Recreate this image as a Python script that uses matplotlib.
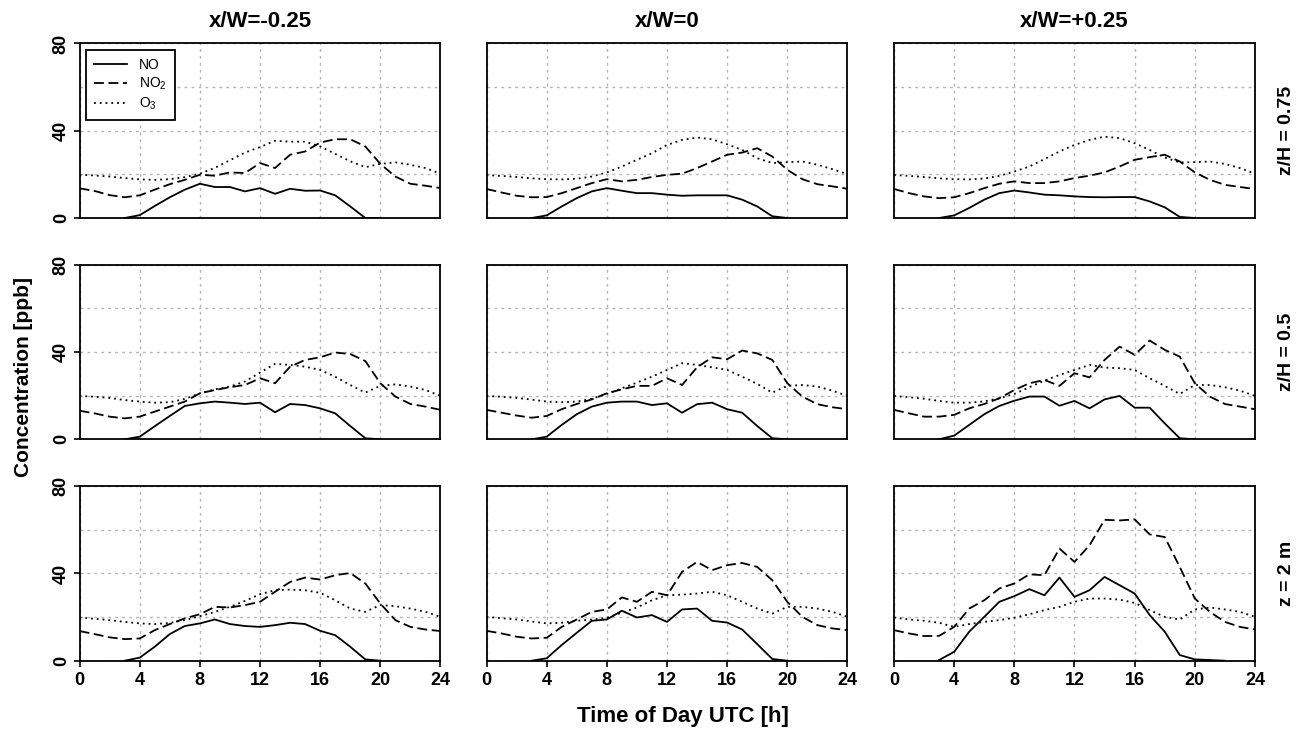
import numpy as np
import matplotlib.pyplot as plt

plt.rcParams["font.family"] = ["Liberation Sans", "DejaVu Sans"]

hours = np.arange(0, 25)

col_titles = ["x/W=-0.25", "x/W=0", "x/W=+0.25"]
row_titles = ["z/H = 0.75", "z/H = 0.5", "z = 2 m"]

# concentrations [ppb], hourly 0..24 (None = not drawn)
# rows: z/H=0.75, z/H=0.5, z=2 m ; cols: x/W=-0.25, 0, +0.25
no_r1c1 = [None, None, None, 0, 1.3, 5.5, 9.5, 13, 15.7, 14.2, 14.2, 12.2, 13.7, 11.1, 13.4, 12.5, 12.6, 10.4, 5.3, 0, 0, None, None, None, None]
no2_r1c1 = [13.6, 12.4, 10.5, 9.5, 10.4, 13, 15.5, 17.5, 19.8, 19.4, 20.9, 20.6, 25.2, 22.9, 29, 30.5, 34.6, 36.1, 36.1, 32.8, 24.8, 19, 15.7, 14.8, 13.7]
o3_r1c1 = [19.8, 19.5, 19, 18.3, 17.7, 17.5, 17.8, 18.7, 20.3, 23, 26.5, 30, 32.5, 35.4, 35, 35, 32.8, 29.4, 26, 23.3, 24.8, 25.5, 24.4, 22.9, 20.3]

no_r1c2 = [None, None, None, 0, 1.2, 5.3, 9.1, 12.2, 13.7, 12.5, 11.4, 11.4, 10.7, 10.2, 10.4, 10.4, 10.4, 8.4, 5.3, 0.8, 0, None, None, None, None]
no2_r1c2 = [13.3, 11.7, 10.2, 9.5, 9.6, 11.4, 13.7, 16, 17.8, 16.8, 17.5, 18.8, 19.8, 20.3, 22.9, 25.9, 29, 30, 32, 28.2, 22.1, 17.8, 15.5, 14.5, 13.4]
o3_r1c2 = [19.7, 19.3, 18.8, 18.2, 17.8, 17.7, 18, 19, 20.9, 23.6, 26.7, 29.7, 33.5, 35.8, 36.9, 36.1, 33.8, 31.2, 27.4, 25.2, 25.6, 25.9, 24.4, 22.4, 20.1]

no_r1c3 = [None, None, None, 0, 1.2, 4.6, 8.4, 11.4, 12.6, 11.7, 10.7, 10.4, 9.9, 9.6, 9.5, 9.6, 9.6, 7.6, 4.9, 0.5, 0, None, None, None, None]
no2_r1c3 = [13.3, 11.4, 9.9, 9.1, 9.5, 11.4, 13.7, 15.7, 16.8, 16, 16, 16.8, 18.3, 19.4, 20.9, 23.6, 26.7, 27.9, 29, 25.9, 20.9, 17.5, 15.2, 14.2, 13.3]
o3_r1c3 = [19.7, 19.3, 18.8, 18.2, 17.8, 17.7, 18.1, 19.3, 21.3, 23.6, 27, 30.5, 33.5, 35.8, 37.3, 36.6, 34.3, 31.2, 27.7, 25.5, 25.6, 25.9, 24.8, 22.9, 20.3]

no_r2c1 = [None, None, None, 0, 1.2, 6, 10.7, 15.3, 16.5, 17.3, 16.8, 16.2, 16.8, 12.4, 16.2, 15.7, 14.2, 11.9, 6.1, 0.5, 0, None, None, None, None]
no2_r2c1 = [13.1, 11.9, 10.4, 9.6, 10.4, 12.7, 15, 17.3, 21.1, 22.6, 23.9, 24.9, 28, 25.7, 33.3, 36.4, 37.6, 39.8, 39.1, 35.9, 25.7, 19.6, 16.2, 15, 13.5]
o3_r2c1 = [19.9, 19.5, 19, 18, 17.3, 16.8, 17, 18.5, 21.1, 22.9, 24.2, 26.5, 30.6, 34.6, 34.1, 33.3, 31.8, 28.7, 24.9, 21.4, 24.5, 25.2, 24.2, 22.6, 19.9]

no_r2c2 = [None, None, None, 0, 1.2, 6.6, 11.5, 15, 16.8, 17.3, 17.3, 15.7, 16.5, 12.2, 16.1, 16.8, 13.8, 12.2, 6.1, 0.5, 0, None, None, None, None]
no2_r2c2 = [13.5, 12.2, 10.9, 9.9, 10.7, 13.8, 16.2, 18.3, 21.1, 22.9, 24.5, 24.5, 28, 24.9, 33, 37.6, 36.7, 40.7, 39.4, 36.4, 25.7, 19.6, 16.1, 14.7, 13.8]
o3_r2c2 = [19.9, 19.5, 19, 18.2, 17.3, 17, 17.3, 18.6, 20.8, 23.4, 26, 28.7, 31.8, 34.9, 34.1, 33, 31.8, 28.7, 25.4, 21.4, 24.5, 24.9, 24.2, 22.3, 19.9]

no_r2c3 = [None, None, None, 0, 1.7, 6.6, 11.5, 15.3, 17.7, 19.6, 19.6, 15.4, 17.6, 14.2, 18.3, 19.9, 14.5, 14.5, 7.3, 0.5, 0, None, None, None, None]
no2_r2c3 = [13.5, 11.9, 10.4, 10.4, 11.2, 14.2, 16.2, 18.8, 22.6, 25.7, 27.2, 24.5, 30.3, 28.4, 36.4, 42.5, 38.7, 45.3, 41, 37.9, 25.7, 19.6, 16.2, 15, 13.8]
o3_r2c3 = [19.9, 19.3, 18.6, 17.6, 16.8, 16.8, 17.4, 18.8, 20.8, 23.9, 26.9, 29.5, 31.8, 34.1, 32.9, 32.6, 31.8, 28, 24.5, 20.8, 24.9, 24.9, 23.9, 22.3, 19.9]

no_r3c1 = [None, None, None, 0, 1.4, 6.4, 12.2, 15.9, 17.1, 18.9, 16.8, 15.9, 15.5, 16.3, 17.4, 16.8, 13.7, 11.7, 6.4, 0.6, 0, None, None, None, None]
no2_r3c1 = [13.6, 12.2, 10.7, 9.9, 10.2, 14, 16.8, 19.4, 21.3, 24.7, 24.4, 25.5, 27, 31.6, 36.1, 38.1, 37.2, 39.2, 40.2, 35.4, 26.2, 18.6, 15.5, 14.3, 13.6]
o3_r3c1 = [19.8, 19.2, 18.6, 17.8, 17.1, 16.8, 17.3, 18.6, 20.4, 22.4, 24.7, 27.4, 30.5, 32.3, 32.6, 32.3, 31.1, 27.7, 23.9, 22.4, 25.5, 25, 23.9, 22.4, 20.1]

no_r3c2 = [None, None, None, 0, 1.1, 7.2, 12.8, 18.3, 18.9, 22.9, 19.8, 20.9, 17.8, 23.5, 23.9, 18.3, 17.5, 14.3, 7.6, 0.8, 0, None, None, None, None]
no2_r3c2 = [13.7, 12.5, 11, 10.2, 10.5, 15.5, 18.9, 22.4, 23.5, 29, 27, 31.6, 30, 40.7, 45.3, 41.5, 43.8, 44.8, 43, 36.9, 27, 20.1, 16.3, 14.8, 14]
o3_r3c2 = [20.1, 19.5, 18.9, 18, 17.1, 17.4, 18.3, 18.9, 19.7, 22, 24.4, 27.7, 30, 30.3, 30.8, 31.6, 30, 27, 23.9, 21.6, 24.7, 24.7, 23.9, 22.4, 20.1]

no_r3c3 = [None, None, None, 0.3, 4.1, 13.3, 20.1, 27, 29.6, 32.8, 30, 38.1, 29.3, 32.3, 38.4, 34.6, 30.8, 20.9, 13.3, 2.6, 0.6, 0.3, 0, None, None]
no2_r3c3 = [14, 12.5, 11.3, 11.4, 15.5, 23.9, 27.7, 33.1, 35.4, 39.6, 39.2, 51.4, 45.3, 52.9, 64.6, 64.3, 64.8, 57.9, 56.7, 43, 28.5, 22.4, 17.8, 15.5, 14.3]
o3_r3c3 = [19.8, 18.9, 18.3, 17.4, 15.5, 16.8, 17.8, 18.6, 19.7, 21.3, 23.2, 24.7, 27, 28.5, 28.5, 28, 26.5, 23.2, 20.1, 18.9, 23.5, 24.4, 23.5, 22.4, 20.1]

no_all = [[no_r1c1, no_r1c2, no_r1c3], [no_r2c1, no_r2c2, no_r2c3], [no_r3c1, no_r3c2, no_r3c3]]
no2_all = [[no2_r1c1, no2_r1c2, no2_r1c3], [no2_r2c1, no2_r2c2, no2_r2c3], [no2_r3c1, no2_r3c2, no2_r3c3]]
o3_all = [[o3_r1c1, o3_r1c2, o3_r1c3], [o3_r2c1, o3_r2c2, o3_r2c3], [o3_r3c1, o3_r3c2, o3_r3c3]]

fig = plt.figure(figsize=(13.04, 7.36), dpi=100)

lefts = [0.061, 0.3731, 0.6856]
bottoms = [0.7038, 0.4031, 0.1023]
w, h = 0.2768, 0.2371

for i in range(3):
    for j in range(3):
        ax = fig.add_axes([lefts[j], bottoms[i], w, h])
        no = np.array(no_all[i][j], dtype=float)
        ax.plot(hours, no, color="black", lw=1.3, ls="-", label="NO")
        ax.plot(hours, no2_all[i][j], color="black", lw=1.3, ls=(0, (5.5, 2.5)),
                label=r"NO$\mathregular{_2}$")
        ax.plot(hours, o3_all[i][j], color="black", lw=1.3, ls=(0, (1, 2.2)),
                label=r"O$\mathregular{_3}$")
        ax.set_xlim(0, 24)
        ax.set_ylim(0, 80)
        ax.set_xticks(np.arange(0, 25, 4))
        ax.set_yticks([0, 40, 80])
        ax.set_yticks([20, 60], minor=True)
        ax.grid(True, which="both", color="#b5b5b5", ls=(0, (2, 3)), lw=1.0)
        for sp in ax.spines.values():
            sp.set_linewidth(1.3)
        ax.tick_params(which="both", length=0)
        ax.set_xticklabels([])
        ax.set_yticklabels([])

        if i == 2:
            ax.tick_params(axis="x", length=4, width=1.2, direction="out", pad=4)
            ax.set_xticklabels([str(v) for v in range(0, 25, 4)], fontweight="bold", fontsize=13)
        if j == 0:
            ax.tick_params(axis="y", which="major", length=4, width=1.2, direction="out", pad=3)
            ax.set_yticklabels(["0", "40", "80"], fontweight="bold", fontsize=13,
                               rotation=90, va="center")
        if i == 0:
            ax.set_title(col_titles[j], fontweight="bold", fontsize=16, pad=12)
        if j == 2:
            ax.text(1.088, 0.5, row_titles[i], transform=ax.transAxes, rotation=90,
                    ha="center", va="center", fontweight="bold", fontsize=14)
        if i == 0 and j == 0:
            leg = ax.legend(loc="upper left", fontsize=10, fancybox=False,
                            edgecolor="black", framealpha=1, handlelength=2.4,
                            borderpad=0.6, labelspacing=0.25, borderaxespad=0.45)
            leg.get_frame().set_linewidth(1.3)

fig.text(0.018, 0.488, "Concentration [ppb]", rotation=90, ha="center", va="center",
         fontweight="bold", fontsize=15)
fig.text(0.524, 0.026, "Time of Day UTC [h]", ha="center", va="center",
         fontweight="bold", fontsize=16)

fig.savefig("out.png", dpi=100)
